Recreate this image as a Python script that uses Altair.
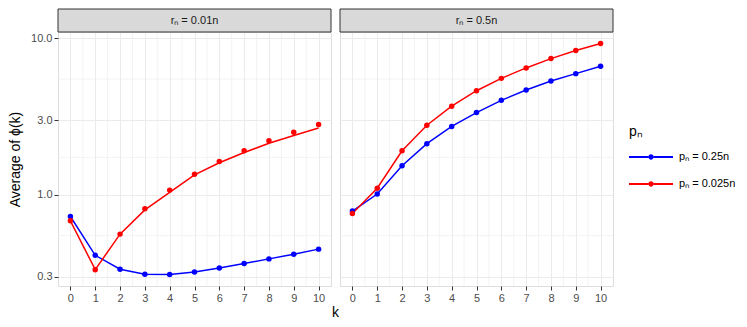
import altair as alt
import pandas as pd

k = list(range(11))
series_names = ["pₙ = 0.25n", "pₙ = 0.025n"]
series_colors = ["#0000FF", "#FF0000"]
panel_titles = ["rₙ = 0.01n", "rₙ = 0.5n"]

left_blue = [0.726, 0.41, 0.334, 0.31, 0.309, 0.321, 0.34, 0.363, 0.389, 0.417, 0.449]
left_red = [0.681, 0.332, 0.56, 0.813, 1.07, 1.35, 1.63, 1.91, 2.21, 2.51, 2.81]
left_red_fit = [0.681, 0.332, 0.56, 0.80, 1.035, 1.34, 1.60, 1.86, 2.13, 2.39, 2.67]
right_blue = [0.786, 1.01, 1.53, 2.12, 2.73, 3.35, 4.01, 4.67, 5.33, 5.94, 6.62]
right_red = [0.759, 1.10, 1.91, 2.78, 3.68, 4.62, 5.54, 6.46, 7.41, 8.34, 9.25]

y_ticks = [0.3, 1.0, 3.0, 10.0]
y_minor = [0.5477, 1.732, 5.477]
x_minor = [i + 0.5 for i in range(10)]
y_domain = [0.261, 10.96]
x_domain = [-0.5, 10.5]

W, H = 273, 254
FONT = "Liberation Sans"

legend_path = ("M-1,-0.045H-0.12V0.045H-1Z M0.12,-0.045H1V0.045H0.12Z "
               "M0.12,0A0.12,0.12 0 1,1 -0.12,0A0.12,0.12 0 1,1 0.12,0Z")

color = alt.Color("series:N", scale=alt.Scale(domain=series_names, range=series_colors),
                  sort=series_names,
                  legend=alt.Legend(
                      title="pₙ", symbolType=legend_path,
                      symbolSize=1936, symbolStrokeWidth=0, labelFontSize=11, titleFontSize=14,
                      titleFontWeight="normal", labelFont=FONT, titleFont=FONT, labelColor="#000000",
                      titleColor="#000000", rowPadding=-25, titlePadding=-4, labelOffset=6,
                      orient="none", legendX=571, legendY=93))


def frame(values, series):
    return pd.DataFrame({"k": k, "value": values, "series": series})


def panel(title, pts_b, pts_r, line_b, line_r, show_y):
    pts = pd.concat([frame(pts_b, series_names[0]), frame(pts_r, series_names[1])])
    lines = pd.concat([frame(line_b, series_names[0]), frame(line_r, series_names[1])])
    x = alt.X("k:Q", scale=alt.Scale(domain=x_domain, nice=False, zero=False),
              axis=alt.Axis(values=k, title=None, grid=True, gridColor="#EBEBEB", gridWidth=1,
                            domain=False, tickColor="#333333", tickSize=4, labelColor="#4D4D4D",
                            labelFontSize=11, labelFont=FONT, format="d", labelPadding=2,
                            labelOverlap=False))
    if show_y:
        yaxis = alt.Axis(values=y_ticks, format=".1f", title="Average of ϕ(k)", grid=True,
                         gridColor="#EBEBEB", gridWidth=1, domain=False, tickColor="#333333",
                         tickSize=4, labelColor="#4D4D4D", labelFontSize=11, labelFont=FONT,
                         titleFont=FONT, titleFontSize=14, titleFontWeight="normal",
                         titleColor="#000000", titlePadding=8, labelPadding=2,
                         labelOverlap=False)
    else:
        yaxis = alt.Axis(values=y_ticks, title=None, grid=True, gridColor="#EBEBEB", gridWidth=1,
                         domain=False, ticks=False, labels=False, labelPadding=0, minExtent=0,
                         maxExtent=0, offset=0)
    y = alt.Y("value:Q", scale=alt.Scale(type="log", domain=y_domain, nice=False), axis=yaxis)

    minor_x = alt.Chart(pd.DataFrame({"k": x_minor})).mark_rule(
        color="#EBEBEB", strokeWidth=0.6).encode(x=x)
    minor_y = alt.Chart(pd.DataFrame({"value": y_minor})).mark_rule(
        color="#EBEBEB", strokeWidth=0.6).encode(y=y)
    line = alt.Chart(lines).mark_line(strokeWidth=1.5).encode(x=x, y=y, color=color)
    point = alt.Chart(pts).mark_point(filled=True, size=30, opacity=1).encode(
        x=x, y=y, color=color)
    strip_df = pd.DataFrame({"label": [title]})
    strip = alt.Chart(strip_df).mark_rect(fill="#D9D9D9", stroke="#333333", strokeWidth=1).encode(
        x=alt.value(0), x2=alt.value(W), y=alt.value(-23), y2=alt.value(0))
    strip_text = alt.Chart(strip_df).mark_text(fontSize=11, font=FONT, color="#1A1A1A").encode(
        x=alt.value(W / 2), y=alt.value(-11.5), text="label:N")
    layers = [minor_x, minor_y, line, point, strip, strip_text]
    if show_y:
        klab = alt.Chart(pd.DataFrame({"label": ["k"]})).mark_text(
            fontSize=14, font=FONT, color="#000000").encode(
            x=alt.value(W + 4.5), y=alt.value(H + 27), text="label:N")
        layers.append(klab)
    return alt.layer(*layers).properties(width=W, height=H)


left = panel(panel_titles[0], left_blue, left_red, left_blue, left_red_fit, True)
right = panel(panel_titles[1], right_blue, right_red, right_blue, right_red, False)

chart = alt.hconcat(left, right, spacing=9, bounds="flush").properties(padding=0).configure_view(
    stroke="#333333", strokeWidth=1).configure(background="white")

chart.save("out.html", embed_options={"renderer": "svg", "actions": False})
